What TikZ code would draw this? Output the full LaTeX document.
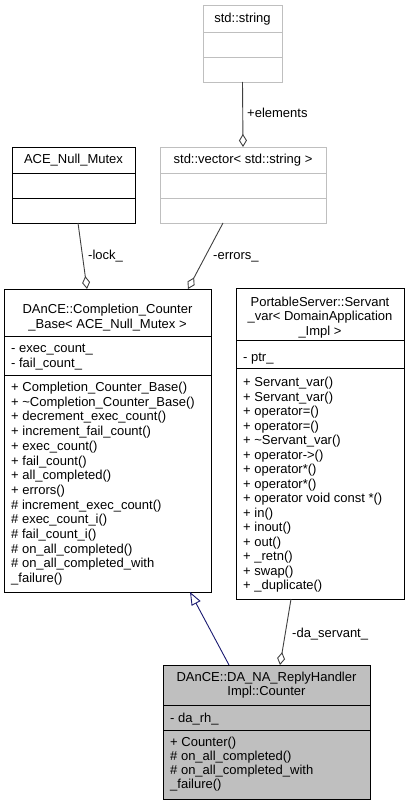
\documentclass[tikz,border=0pt]{standalone}
\usepackage{fontspec}
\setmainfont{Liberation Sans}
\usetikzlibrary{arrows.meta}
\definecolor{boxgray}{HTML}{BFBFBF}
\definecolor{edgegray}{HTML}{404040}
\definecolor{inhnavy}{HTML}{191970}
\tikzset{
  cls/.style={draw=black, line width=0.9pt, inner sep=0pt, outer sep=0pt},
  gcls/.style={cls, draw=boxgray},
  txt/.style={inner sep=0pt, font=\fontsize{13}{14.5}\selectfont, anchor=base west},
  ctxt/.style={txt, anchor=base},
  agg/.style={draw=edgegray, line width=0.9pt, -{Diamond[open,length=13pt,width=8pt,line width=0.9pt]}},
  inh/.style={draw=inhnavy, line width=0.9pt, -{Triangle[open,length=13pt,width=10pt,line width=0.9pt]}},
  lbl/.style={txt}
}
\newcommand{\dividerline}[3]{\draw[#3, line width=0.9pt] ([yshift=-#2pt]#1.north west) -- ([yshift=-#2pt]#1.north east);}
\newcommand{\textlines}[5]{%
  \foreach \t [count=\i from 0] in {#5} {
    \node[txt] (#1-\i) at (#2, #3 + \i*#4) {\t};
  }}
\begin{document}
\begin{tikzpicture}[x=1pt,y=-1pt]
\useasboundingbox (0,0) rectangle (409,805);

% std::string
\node[gcls, minimum width=79pt, minimum height=77pt] (str) at (242.5,43.5) {};
\dividerline{str}{27}{boxgray}
\dividerline{str}{52}{boxgray}
\node[ctxt] (str-t) at (242.5,23) {std::string};

% ACE_Null_Mutex
\node[cls, minimum width=123pt, minimum height=76pt] (mutex) at (73.5,185) {};
\dividerline{mutex}{26}{black}
\dividerline{mutex}{51}{black}
\node[ctxt] (mutex-t) at (73.5,164) {ACE\_Null\_Mutex};

% std::vector
\node[gcls, minimum width=166pt, minimum height=76pt] (vec) at (243,185) {};
\dividerline{vec}{26}{boxgray}
\dividerline{vec}{51}{boxgray}
\node[ctxt] (vec-t) at (243,164) {std::vector< std::string >};

% Completion_Counter_Base
\node[cls, minimum width=207pt, minimum height=303pt] (base) at (107.5,440.5) {};
\dividerline{base}{47}{black}
\dividerline{base}{86}{black}
\node[ctxt] (base-t1) at (107.5,313) {DAnCE::Completion\_Counter};
\node[ctxt] (base-t2) at (107.5,328) {\_Base< ACE\_Null\_Mutex >};
\textlines{base-a}{11}{352.5}{14.7}{- exec\_count\_, - fail\_count\_}
\textlines{base-m}{11}{391.5}{14.7}{+ Completion\_Counter\_Base(), + \textasciitilde Completion\_Counter\_Base(), + decrement\_exec\_count(), + increment\_fail\_count(), + exec\_count(), + fail\_count(), + all\_completed(), + errors(), \# increment\_exec\_count(), \# exec\_count\_i(), \# fail\_count\_i(), \# on\_all\_completed(), \# on\_all\_completed\_with, \_failure()}

% Servant_var
\node[cls, minimum width=168pt, minimum height=311pt] (serv) at (320,443.5) {};
\dividerline{serv}{52}{black}
\dividerline{serv}{80}{black}
\node[ctxt] (serv-t1) at (320,306) {PortableServer::Servant};
\node[ctxt] (serv-t2) at (320,320.5) {\_var< DomainApplication};
\node[ctxt] (serv-t3) at (320,335) {\_Impl >};
\textlines{serv-a}{243}{361.5}{14.5}{- ptr\_}
\textlines{serv-m}{243}{386.5}{14.5}{+ Servant\_var(), + Servant\_var(), + operator=(), + operator=(), + \textasciitilde Servant\_var(), + operator->(), + operator*(), + operator*(), + operator void const *(), + in(), + inout(), + out(), + \_retn(), + swap(), + \_duplicate()}

% Counter
\node[cls, fill=boxgray, minimum width=207pt, minimum height=134pt] (cnt) at (266.5,732) {};
\dividerline{cnt}{40}{black}
\dividerline{cnt}{65}{black}
\node[ctxt] (cnt-t1) at (266.5,681.5) {DAnCE::DA\_NA\_ReplyHandler};
\node[ctxt] (cnt-t2) at (266.5,695.5) {Impl::Counter};
\textlines{cnt-a}{170}{722.5}{14}{- da\_rh\_}
\textlines{cnt-m}{170}{746.5}{14}{+ Counter(), \# on\_all\_completed(), \# on\_all\_completed\_with, \_failure()}

% connectors
\draw[agg] (str.south) -- (vec.north);
\node[lbl] (l-elem) at (247,117.5) {+elements};
\draw[agg] ([xshift=4.5pt]mutex.south) -- ([xshift=-20.5pt]base.north);
\node[lbl] (l-lock) at (88,259) {-lock\_};
\draw[agg] ([xshift=-20pt]vec.south) -- ([xshift=80.5pt]base.north);
\node[lbl] (l-err) at (213,259) {-errors\_};
\draw[agg] ([xshift=-29pt]serv.south) -- ([xshift=13.5pt]cnt.north);
\node[lbl] (l-serv) at (292,637) {-da\_servant\_};
\draw[inh] ([xshift=-37.5pt]cnt.north) -- ([xshift=82.5pt]base.south);
\end{tikzpicture}
\end{document}
